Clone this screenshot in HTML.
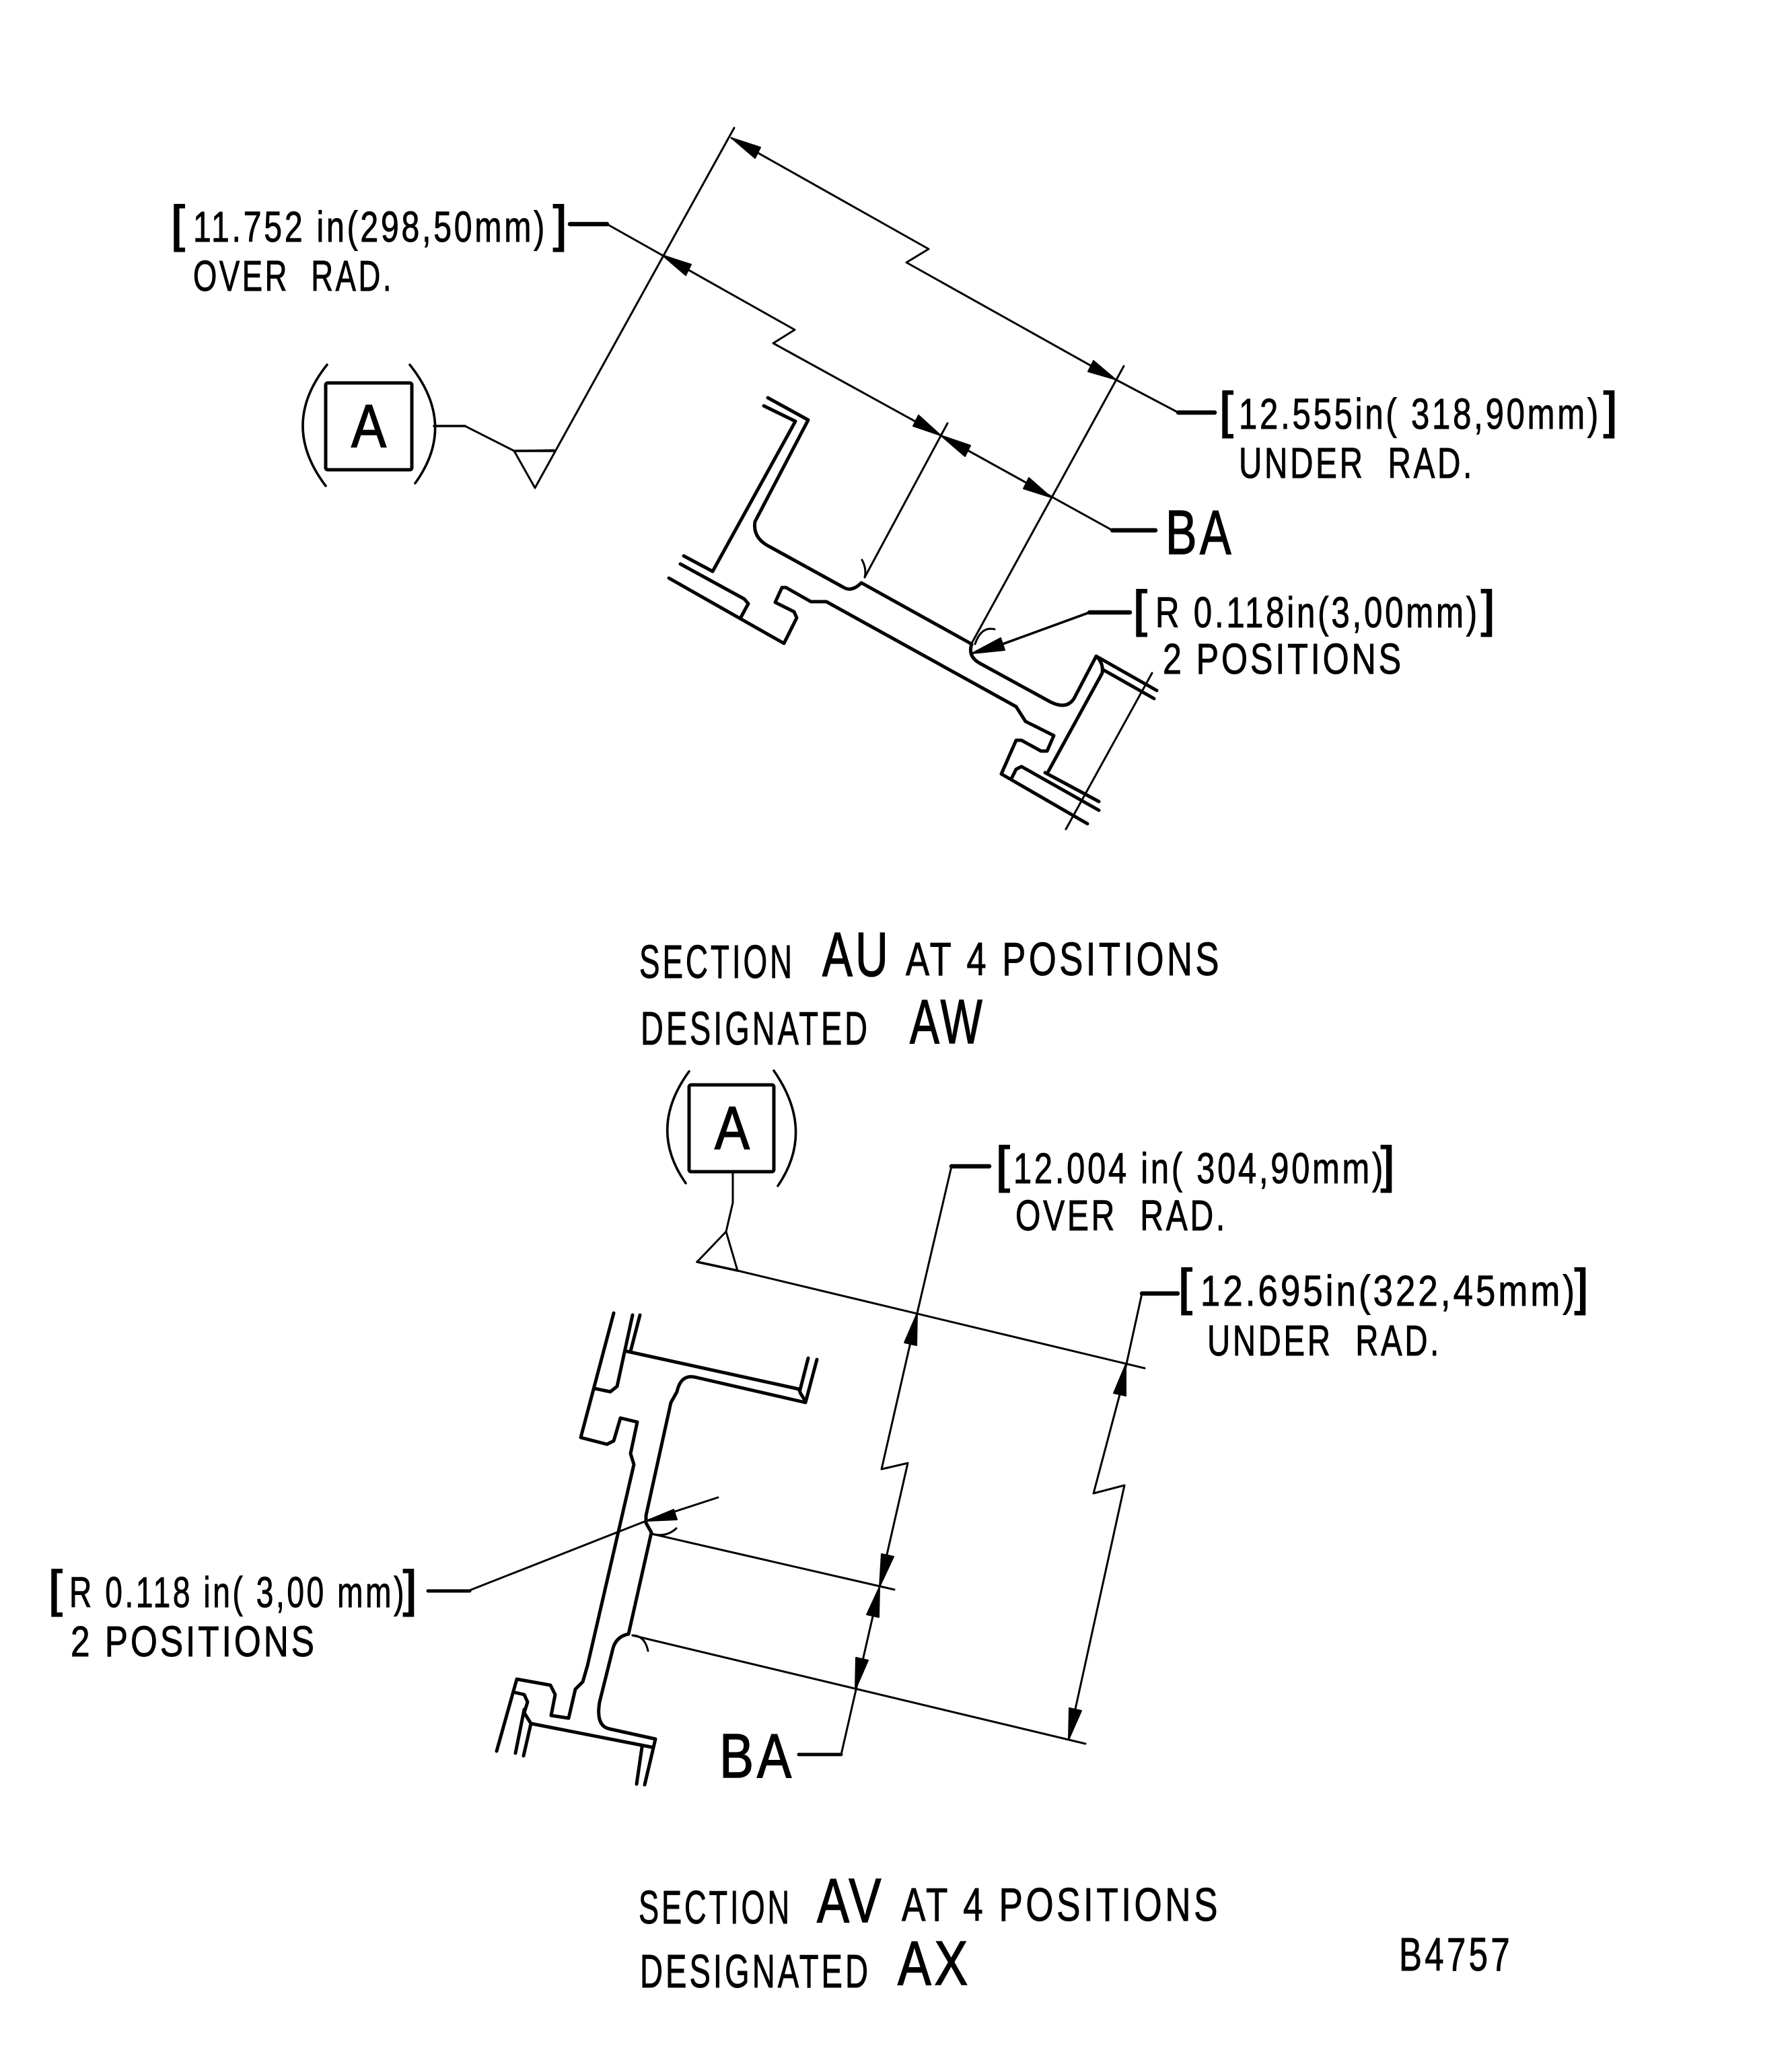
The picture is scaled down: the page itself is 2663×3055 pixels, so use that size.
<!DOCTYPE html>
<html><head><meta charset="utf-8"><style>
html,body{margin:0;padding:0;background:#fff}
svg{display:block}
text{font-family:"Liberation Sans",sans-serif;fill:#000;stroke:#000;stroke-width:1}
.t{font-size:64px;letter-spacing:5px}.b{font-size:74px;stroke-width:2}.s{font-size:70px;letter-spacing:6px}.l{font-size:93px;stroke-width:1.6;letter-spacing:6px}
.th{fill:none;stroke:#000;stroke-width:3;stroke-linejoin:round;stroke-linecap:round}
.m{fill:none;stroke:#000;stroke-width:3.6;stroke-linejoin:round;stroke-linecap:round}
.p{fill:none;stroke:#000;stroke-width:5;stroke-linejoin:round;stroke-linecap:round}
.h{fill:none;stroke:#000;stroke-width:6.5;stroke-linecap:round}
polygon{fill:#000;stroke:#000;stroke-width:2;stroke-linejoin:round}
</style></head><body>
<svg width="2663" height="3055" viewBox="0 0 2663 3055" xmlns="http://www.w3.org/2000/svg">
<rect width="2663" height="3055" fill="#fff"/>

<!-- top section: dimension lines -->
<path class="th" d="M1091 190L795 725L764 670L823 669"/>
<path class="th" d="M691 633L764 670"/><path class="m" d="M645 633H691"/>
<path class="m" d="M764 670H823"/>
<path class="th" d="M1087 205L1380 370L1347 390L1658 564L1751 613"/>
<path class="h" d="M1751 613H1805"/>
<path class="th" d="M902 333L1181 490L1149 510L1398 647L1653 788"/>
<path class="h" d="M847 333H902"/><path class="h" d="M1653 788H1717"/>
<path class="th" d="M1670 544L1445 954"/>
<path class="th" d="M1408 629L1286 856"/>
<path class="th" d="M1281 832Q1288 845 1285 858"/>
<path class="th" d="M1478 935Q1458 930 1449 957"/>
<polygon points="1087,205 1130,219 1122,235"/>
<polygon points="1658,564 1625,536 1617,552"/>
<polygon points="984,379 1027,393 1019,409"/>
<polygon points="1398,647 1365,617 1357,633"/>
<polygon points="1398,647 1442,662 1434,678"/>
<polygon points="1562,739 1529,710 1521,726"/>
<polygon points="1444,971 1487,948 1493,966"/>
<path class="m" d="M1490 957L1619 910"/><path class="h" d="M1619 910H1679"/>

<!-- A symbol top -->
<rect class="p" x="484" y="569" width="128" height="129" rx="3"/>
<path class="m" d="M486 542Q415 631 484 722"/>
<path class="m" d="M609 542Q680 631 617 718"/>
<text x="522" y="664" style="font-size:90px;stroke-width:1.6" textLength="52" lengthAdjust="spacingAndGlyphs">A</text>

<!-- top profile -->
<path class="p" d="M1141 591L1201 624L1122 775Q1118 800 1145 813L1254 873Q1266 880 1280 866L1444 957Q1438 975 1455 985L1561 1043Q1585 1055 1596 1038L1629 975L1719 1026"/>
<path class="p" d="M1135 603L1182 626L1059 849"/>
<path class="p" d="M1016 826L1059 849"/>
<path class="p" d="M1011 838L1106 890L1112 897L1100 919"/>
<path class="p" d="M994 859L1165 956L1184 918L1180 909L1152 895L1162 873H1168L1205 894H1228L1510 1050L1524 1072L1566 1093L1556 1116H1547L1518 1100H1510L1488 1150L1616 1224"/>
<path class="p" d="M1639 995L1715 1038"/>
<path class="p" d="M1629 975Q1640 985 1638 1000L1558 1146"/>
<path class="p" d="M1553 1148L1633 1191"/>
<path class="p" d="M1504 1155L1510 1143L1518 1139L1633 1204"/>
<path class="th" d="M1712 1000L1584 1232"/>

<!-- top labels -->
<text class="b" x="254" y="358">[</text>
<text class="t" x="287" y="359" textLength="526" lengthAdjust="spacingAndGlyphs">11.752 in(298,50mm)</text>
<text class="b" x="822" y="358">]</text>
<text class="t" x="287" y="432" textLength="298" lengthAdjust="spacingAndGlyphs">OVER&#160;&#160;RAD.</text>

<text class="b" x="1812" y="635">[</text>
<text class="t" x="1841" y="637" textLength="538" lengthAdjust="spacingAndGlyphs">12.555in( 318,90mm)</text>
<text class="b" x="2383" y="635">]</text>
<text class="t" x="1841" y="710" textLength="350" lengthAdjust="spacingAndGlyphs">UNDER&#160;&#160;RAD.</text>

<text class="l" x="1732" y="823" textLength="102" lengthAdjust="spacingAndGlyphs">BA</text>

<text class="b" x="1684" y="930">[</text>
<text class="t" x="1717" y="932" textLength="482" lengthAdjust="spacingAndGlyphs">R 0.118in(3,00mm)</text>
<text class="b" x="2201" y="930">]</text>
<text class="t" x="1728" y="1001" textLength="358" lengthAdjust="spacingAndGlyphs">2 POSITIONS</text>

<text class="s" x="950" y="1453" textLength="231" lengthAdjust="spacingAndGlyphs">SECTION</text>
<text class="l" x="1222" y="1450" textLength="102" lengthAdjust="spacingAndGlyphs">AU</text>
<text class="s" x="1346" y="1449" textLength="470" lengthAdjust="spacingAndGlyphs">AT 4 POSITIONS</text>
<text class="s" x="952" y="1552" textLength="341" lengthAdjust="spacingAndGlyphs">DESIGNATED</text>
<text class="l" x="1352" y="1550" textLength="112" lengthAdjust="spacingAndGlyphs">AW</text>

<!-- A symbol bottom -->
<rect class="p" x="1024" y="1612" width="126" height="129" rx="3"/>
<path class="m" d="M1024 1592Q962 1677 1019 1758"/>
<path class="m" d="M1150 1591Q1212 1680 1156 1762"/>
<text x="1062" y="1707" style="font-size:90px;stroke-width:1.6" textLength="52" lengthAdjust="spacingAndGlyphs">A</text>
<path class="th" d="M1089 1742V1787L1079 1830L1036 1875"/>
<path class="th" d="M1079 1830L1096 1888"/>
<path class="m" d="M1036 1875L1096 1888"/>
<path class="th" d="M1096 1888L1701 2033"/>

<!-- bottom dims -->
<path class="th" d="M1414 1733L1363 1951L1310 2183L1349 2174L1307 2358L1250 2607"/>
<path class="h" d="M1414 1733H1470"/>
<path class="h" d="M1250 2607H1187" style="stroke-width:5"/>
<path class="th" d="M1697 1922L1664 2072L1625 2219L1671 2207L1588 2585"/>
<path class="h" d="M1697 1922H1750"/>
<path class="th" d="M968 2279L1329 2362"/>
<path class="th" d="M940 2430L1613 2591"/>
<path class="th" d="M963 2453Q958 2430 940 2430"/>
<path class="th" d="M1005 2271Q990 2285 968 2279"/>
<path class="th" d="M1067 2225L960 2260L698 2363"/>
<path class="h" d="M698 2364L636 2364" style="stroke-width:5"/>
<polygon points="1363,1951 1362,1999 1344,1995"/>
<polygon points="1307,2358 1328,2313 1310,2309"/>
<polygon points="1307,2358 1306,2403 1288,2399"/>
<polygon points="1271,2511 1290,2467 1272,2463"/>
<polygon points="1673,2027 1673,2074 1655,2070"/>
<polygon points="1588,2585 1607,2542 1589,2538"/>
<polygon points="960,2260 1001,2243 1006,2258"/>

<!-- bottom profile -->
<path class="p" d="M912 1951L863 2136L902 2146L912 2141L922 2107L947 2113L937 2160L942 2176L873 2475L866 2499L855 2510L845 2553L819 2549L825 2518L818 2504L768 2495L738 2602"/>
<path class="p" d="M940 1954L917 2060L907 2068L883 2063"/>
<path class="p" d="M951 1954L937 2008"/>
<path class="p" d="M932 2008L1187 2064L1190 2071L1197 2082"/>
<path class="p" d="M1201 2018L1189 2065"/>
<path class="p" d="M1214 2020L1197 2084L1036 2047Q1012 2040 1006 2068L997 2084L960 2252V2263L968 2277L934 2428Q914 2432 910 2453L891 2529Q885 2565 906 2569L974 2584L958 2652"/>
<path class="p" d="M954 2596L946 2651"/>
<path class="p" d="M789 2561L968 2596"/>
<path class="p" d="M779 2540L766 2605"/>
<path class="p" d="M789 2561L778 2609"/>
<path class="p" d="M766 2515L779 2518L784 2529L779 2545L789 2561"/>

<!-- bottom labels -->
<text class="b" x="1480" y="1756">[</text>
<text class="t" x="1506" y="1758" textLength="553" lengthAdjust="spacingAndGlyphs">12.004 in( 304,90mm)</text>
<text class="b" x="2052" y="1756">]</text>
<text class="t" x="1509" y="1828" textLength="315" lengthAdjust="spacingAndGlyphs">OVER&#160;&#160;RAD.</text>

<text class="b" x="1751" y="1938">[</text>
<text class="t" x="1784" y="1940" textLength="560" lengthAdjust="spacingAndGlyphs">12.695in(322,45mm)</text>
<text class="b" x="2340" y="1938">]</text>
<text class="t" x="1794" y="2014" textLength="348" lengthAdjust="spacingAndGlyphs">UNDER&#160;&#160;RAD.</text>

<text class="b" x="72" y="2386">[</text>
<text class="t" x="103" y="2388" textLength="501" lengthAdjust="spacingAndGlyphs">R 0.118 in( 3,00 mm)</text>
<text class="b" x="599" y="2386">]</text>
<text class="t" x="105" y="2461" textLength="366" lengthAdjust="spacingAndGlyphs">2 POSITIONS</text>

<text class="l" x="1069" y="2641" textLength="112" lengthAdjust="spacingAndGlyphs">BA</text>

<text class="s" x="949" y="2858" textLength="228" lengthAdjust="spacingAndGlyphs">SECTION</text>
<text class="l" x="1214" y="2856" textLength="100" lengthAdjust="spacingAndGlyphs">AV</text>
<text class="s" x="1340" y="2854" textLength="474" lengthAdjust="spacingAndGlyphs">AT 4 POSITIONS</text>
<text class="s" x="951" y="2953" textLength="343" lengthAdjust="spacingAndGlyphs">DESIGNATED</text>
<text class="l" x="1334" y="2949" textLength="109" lengthAdjust="spacingAndGlyphs">AX</text>
<text class="s" x="2079" y="2928" textLength="169" lengthAdjust="spacingAndGlyphs">B4757</text>
</svg>
</body></html>
